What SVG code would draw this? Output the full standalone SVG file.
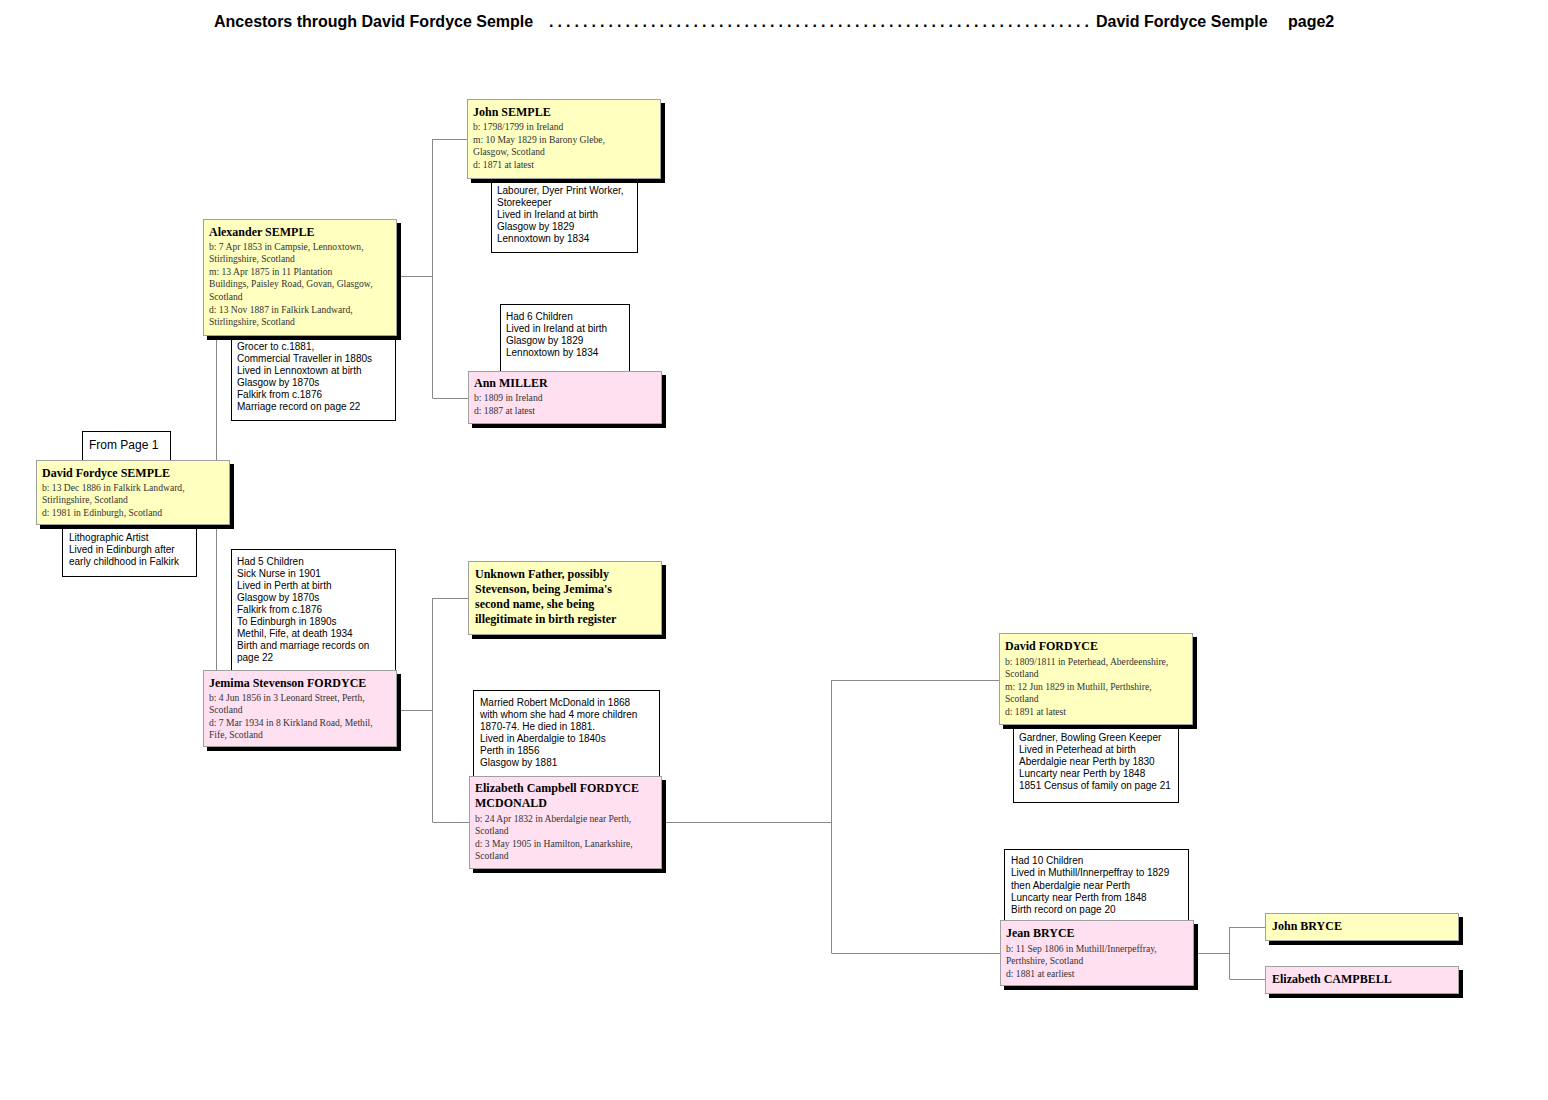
<svg xmlns="http://www.w3.org/2000/svg" width="1548" height="1100" viewBox="0 0 1548 1100">
<style>
.bg{fill:#fff}
.sh{fill:#000}
.py{fill:#FFFFC0;stroke:#A0A0A0;stroke-width:1}
.pp{fill:#FFE0F0;stroke:#A0A0A0;stroke-width:1}
.note{fill:#fff;stroke:#000;stroke-width:1}
.nm{font-family:"Liberation Serif","Times New Roman",serif;font-weight:bold;font-size:12px;fill:#000}
.dt{font-family:"Liberation Serif","Times New Roman",serif;font-size:9.6px;fill:#333}
.nt{font-family:"Liberation Sans",Arial,sans-serif;font-size:10px;fill:#000}
.hd{font-family:"Liberation Sans",Arial,sans-serif;font-weight:bold;font-size:16px;fill:#000}
.ln{fill:none;stroke:#888;stroke-width:1}
.fp{font-family:"Liberation Sans",Arial,sans-serif;font-size:12px;fill:#000}
</style>
<rect class="bg" x="0" y="0" width="1548" height="1100"/>
<g id="header">
<text class="hd" x="214" y="27">Ancestors through David Fordyce Semple</text>
<text class="hd" x="549" y="27" textLength="540" lengthAdjust="spacing">. . . . . . . . . . . . . . . . . . . . . . . . . . . . . . . . . . . . . . . . . . . . . . . . . . . . . . . . . . . . . . . .</text>
<text class="hd" x="1096" y="27">David Fordyce Semple</text>
<text class="hd" x="1288" y="27">page2</text>
</g>
<g id="connectors">
<path class="ln" d="M216.5 335 V670"/>
<path class="ln" d="M397 276.5 H432.5 M432.5 139 V398 M432.5 139.5 H467 M432.5 398.5 H468"/>
<path class="ln" d="M397 710.5 H432.5 M432.5 598 V822 M432.5 598.5 H468 M432.5 822.5 H469"/>
<path class="ln" d="M662 822.5 H831.5 M831.5 680 V953 M831.5 680.5 H999 M831.5 953.5 H1000"/>
<path class="ln" d="M1193 953.5 H1229.5 M1229.5 927 V979 M1229.5 927.5 H1265 M1229.5 979.5 H1265"/>
</g>
<g id="from-page-1">
<rect class="note" x="82.5" y="431.5" width="88" height="29"/>
<text class="fp" x="89" y="449">From Page 1</text>
</g>
<g id="john-semple">
<rect class="note" x="491.5" y="178.5" width="146" height="74"/>
<text class="nt" x="497" y="194">Labourer, Dyer Print Worker,</text>
<text class="nt" x="497" y="206">Storekeeper</text>
<text class="nt" x="497" y="218">Lived in Ireland at birth</text>
<text class="nt" x="497" y="230">Glasgow by 1829</text>
<text class="nt" x="497" y="242">Lennoxtown by 1834</text>
<rect class="sh" x="471" y="103" width="194" height="80"/>
<rect class="py" x="467.5" y="99.5" width="193" height="79"/>
<text class="nm" x="473" y="116">John SEMPLE</text>
<text class="dt" x="473" y="130">b: 1798/1799 in Ireland</text>
<text class="dt" x="473" y="143">m: 10 May 1829 in Barony Glebe,</text>
<text class="dt" x="473" y="155">Glasgow, Scotland</text>
<text class="dt" x="473" y="168">d: 1871 at latest</text>
</g>
<g id="ann-miller">
<rect class="note" x="500.5" y="304.5" width="129" height="67"/>
<text class="nt" x="506" y="320">Had 6 Children</text>
<text class="nt" x="506" y="332">Lived in Ireland at birth</text>
<text class="nt" x="506" y="344">Glasgow by 1829</text>
<text class="nt" x="506" y="356">Lennoxtown by 1834</text>
<rect class="sh" x="472" y="375" width="194" height="53"/>
<rect class="pp" x="468.5" y="371.5" width="193" height="52"/>
<text class="nm" x="474" y="387">Ann MILLER</text>
<text class="dt" x="474" y="401">b: 1809 in Ireland</text>
<text class="dt" x="474" y="414">d: 1887 at latest</text>
</g>
<g id="alexander-semple">
<rect class="note" x="231.5" y="335.5" width="164" height="85"/>
<text class="nt" x="237" y="350">Grocer to c.1881,</text>
<text class="nt" x="237" y="362">Commercial Traveller in 1880s</text>
<text class="nt" x="237" y="374">Lived in Lennoxtown at birth</text>
<text class="nt" x="237" y="386">Glasgow by 1870s</text>
<text class="nt" x="237" y="398">Falkirk from c.1876</text>
<text class="nt" x="237" y="410">Marriage record on page 22</text>
<rect class="sh" x="207" y="223" width="194" height="117"/>
<rect class="py" x="203.5" y="219.5" width="193" height="116"/>
<text class="nm" x="209" y="236">Alexander SEMPLE</text>
<text class="dt" x="209" y="250">b: 7 Apr 1853 in Campsie, Lennoxtown,</text>
<text class="dt" x="209" y="262">Stirlingshire, Scotland</text>
<text class="dt" x="209" y="275">m: 13 Apr 1875 in 11 Plantation</text>
<text class="dt" x="209" y="287">Buildings, Paisley Road, Govan, Glasgow,</text>
<text class="dt" x="209" y="300">Scotland</text>
<text class="dt" x="209" y="313">d: 13 Nov 1887 in Falkirk Landward,</text>
<text class="dt" x="209" y="325">Stirlingshire, Scotland</text>
</g>
<g id="david-fordyce-semple">
<rect class="note" x="62.5" y="524.5" width="134" height="52"/>
<text class="nt" x="69" y="541">Lithographic Artist</text>
<text class="nt" x="69" y="553">Lived in Edinburgh after</text>
<text class="nt" x="69" y="565">early childhood in Falkirk</text>
<rect class="sh" x="40" y="464" width="194" height="65"/>
<rect class="py" x="36.5" y="460.5" width="193" height="64"/>
<text class="nm" x="42" y="477">David Fordyce SEMPLE</text>
<text class="dt" x="42" y="491">b: 13 Dec 1886 in Falkirk Landward,</text>
<text class="dt" x="42" y="503">Stirlingshire, Scotland</text>
<text class="dt" x="42" y="516">d: 1981 in Edinburgh, Scotland</text>
</g>
<g id="jemima-fordyce">
<rect class="note" x="231.5" y="549.5" width="164" height="121"/>
<text class="nt" x="237" y="565">Had 5 Children</text>
<text class="nt" x="237" y="577">Sick Nurse in 1901</text>
<text class="nt" x="237" y="589">Lived in Perth at birth</text>
<text class="nt" x="237" y="601">Glasgow by 1870s</text>
<text class="nt" x="237" y="613">Falkirk from c.1876</text>
<text class="nt" x="237" y="625">To Edinburgh in 1890s</text>
<text class="nt" x="237" y="637">Methil, Fife, at death 1934</text>
<text class="nt" x="237" y="649">Birth and marriage records on</text>
<text class="nt" x="237" y="661">page 22</text>
<rect class="sh" x="207" y="674" width="194" height="77"/>
<rect class="pp" x="203.5" y="670.5" width="193" height="76"/>
<text class="nm" x="209" y="687">Jemima Stevenson FORDYCE</text>
<text class="dt" x="209" y="701">b: 4 Jun 1856 in 3 Leonard Street, Perth,</text>
<text class="dt" x="209" y="713">Scotland</text>
<text class="dt" x="209" y="726">d: 7 Mar 1934 in 8 Kirkland Road, Methil,</text>
<text class="dt" x="209" y="738">Fife, Scotland</text>
</g>
<g id="unknown-father">
<rect class="sh" x="472" y="565" width="194" height="74"/>
<rect class="py" x="468.5" y="561.5" width="193" height="73"/>
<text class="nm" x="475" y="578">Unknown Father, possibly</text>
<text class="nm" x="475" y="593">Stevenson, being Jemima's</text>
<text class="nm" x="475" y="608">second name, she being</text>
<text class="nm" x="475" y="623">illegitimate in birth register</text>
</g>
<g id="elizabeth-fordyce-mcdonald">
<rect class="note" x="473.5" y="690.5" width="186" height="86"/>
<text class="nt" x="480" y="706">Married Robert McDonald in 1868</text>
<text class="nt" x="480" y="718">with whom she had 4 more children</text>
<text class="nt" x="480" y="730">1870-74. He died in 1881.</text>
<text class="nt" x="480" y="742">Lived in Aberdalgie to 1840s</text>
<text class="nt" x="480" y="754">Perth in 1856</text>
<text class="nt" x="480" y="766">Glasgow by 1881</text>
<rect class="sh" x="473" y="780" width="193" height="93"/>
<rect class="pp" x="469.5" y="776.5" width="192" height="92"/>
<text class="nm" x="475" y="792">Elizabeth Campbell FORDYCE</text>
<text class="nm" x="475" y="807">MCDONALD</text>
<text class="dt" x="475" y="822">b: 24 Apr 1832 in Aberdalgie near Perth,</text>
<text class="dt" x="475" y="834">Scotland</text>
<text class="dt" x="475" y="847">d: 3 May 1905 in Hamilton, Lanarkshire,</text>
<text class="dt" x="475" y="859">Scotland</text>
</g>
<g id="david-fordyce">
<rect class="note" x="1013.5" y="724.5" width="165" height="78"/>
<text class="nt" x="1019" y="741">Gardner, Bowling Green Keeper</text>
<text class="nt" x="1019" y="753">Lived in Peterhead at birth</text>
<text class="nt" x="1019" y="765">Aberdalgie near Perth by 1830</text>
<text class="nt" x="1019" y="777">Luncarty near Perth by 1848</text>
<text class="nt" x="1019" y="789">1851 Census of family on page 21</text>
<rect class="sh" x="1003" y="637" width="194" height="92"/>
<rect class="py" x="999.5" y="633.5" width="193" height="91"/>
<text class="nm" x="1005" y="650">David FORDYCE</text>
<text class="dt" x="1005" y="665">b: 1809/1811 in Peterhead, Aberdeenshire,</text>
<text class="dt" x="1005" y="677">Scotland</text>
<text class="dt" x="1005" y="690">m: 12 Jun 1829 in Muthill, Perthshire,</text>
<text class="dt" x="1005" y="702">Scotland</text>
<text class="dt" x="1005" y="715">d: 1891 at latest</text>
</g>
<g id="jean-bryce">
<rect class="note" x="1004.5" y="849.5" width="184" height="71"/>
<text class="nt" x="1011" y="864">Had 10 Children</text>
<text class="nt" x="1011" y="876">Lived in Muthill/Innerpeffray to 1829</text>
<text class="nt" x="1011" y="889">then Aberdalgie near Perth</text>
<text class="nt" x="1011" y="901">Luncarty near Perth from 1848</text>
<text class="nt" x="1011" y="913">Birth record on page 20</text>
<rect class="sh" x="1004" y="924" width="194" height="66"/>
<rect class="pp" x="1000.5" y="920.5" width="193" height="65"/>
<text class="nm" x="1006" y="937">Jean BRYCE</text>
<text class="dt" x="1006" y="952">b: 11 Sep 1806 in Muthill/Innerpeffray,</text>
<text class="dt" x="1006" y="964">Perthshire, Scotland</text>
<text class="dt" x="1006" y="977">d: 1881 at earliest</text>
</g>
<g id="john-bryce">
<rect class="sh" x="1269" y="917" width="194" height="28"/>
<rect class="py" x="1265.5" y="913.5" width="193" height="27"/>
<text class="nm" x="1272" y="930">John BRYCE</text>
</g>
<g id="elizabeth-campbell">
<rect class="sh" x="1269" y="970" width="194" height="28"/>
<rect class="pp" x="1265.5" y="966.5" width="193" height="27"/>
<text class="nm" x="1272" y="983">Elizabeth CAMPBELL</text>
</g>
</svg>
